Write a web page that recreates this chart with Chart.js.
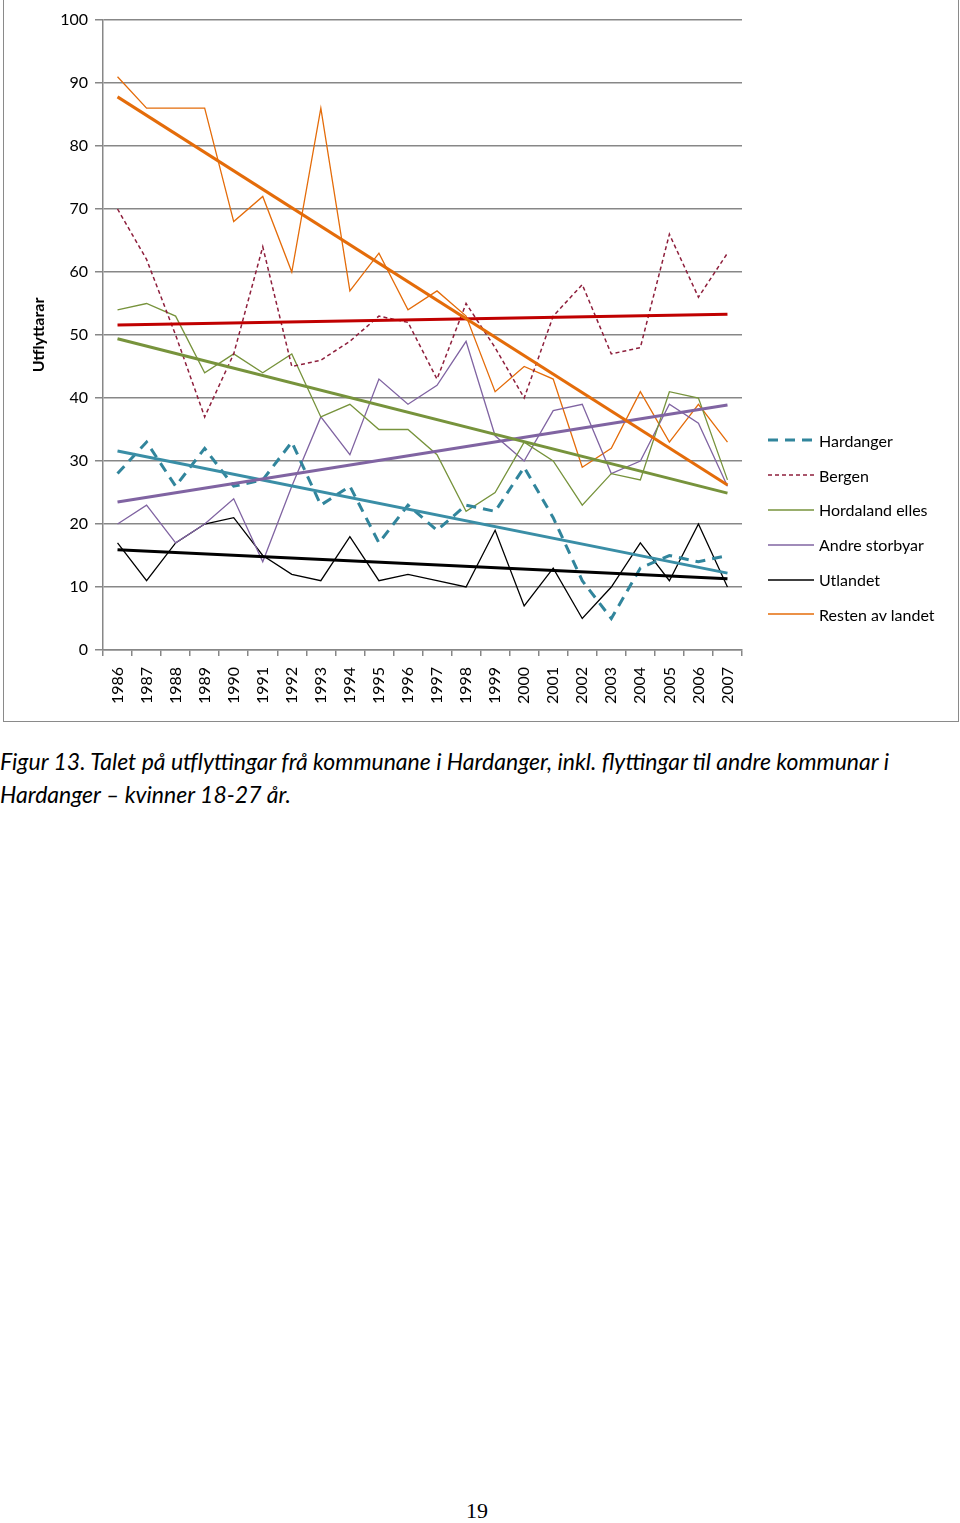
<!DOCTYPE html>
<html>
<head>
<meta charset="utf-8">
<script src="https://cdn.jsdelivr.net/npm/chart.js@4.4.1/dist/chart.umd.min.js"></script>
<style>
  body { margin: 0; background: #fff; width: 960px; height: 1523px; position: relative; font-family: Lato, sans-serif; }
  #frame { position: absolute; left: 3px; top: -1px; width: 954px; height: 721px; border: 1px solid #8a8a8a; }
  #chart { position: absolute; left: 0; top: 0; }
  #legend { position: absolute; left: 768px; top: 423px; font-size: 16px; color: #000; }
  #legend .item { height: 34.8px; display: flex; align-items: center; }
  #legend svg { width: 46px; height: 6px; margin-right: 5px; }
  #caption { position: absolute; left: 0; top: 745px; font-style: italic; font-size: 23px; line-height: 33px; white-space: nowrap; color: #000; }
  #pageno { position: absolute; left: 466px; top: 1498px; font-family: "Liberation Serif", serif; font-size: 22px; }
</style>
</head>
<body>
<div id="frame"></div>
<canvas id="chart" width="960" height="722"></canvas>
<div id="legend"></div>
<div id="caption">Figur 13. Talet på utflyttingar frå kommunane i Hardanger, inkl. flyttingar til andre kommunar i<br>Hardanger – kvinner 18-27 år.</div>
<div id="pageno">19</div>
<script>
// ===== Data =====
var years = ['1986','1987','1988','1989','1990','1991','1992','1993','1994','1995','1996',
             '1997','1998','1999','2000','2001','2002','2003','2004','2005','2006','2007'];

var hardanger      = [28,33,26,32,26,27,33,23,26,17,23,19,23,22,29,21,11,5,13,15,14,15];
var bergen         = [70,62,50,37,47,64,45,46,49,53,52,43,55,48,40,53,58,47,48,66,56,63];
var hordalandElles = [54,55,53,44,47,44,47,37,39,35,35,31,22,25,33,30,23,28,27,41,40,27];
var andreStorbyar  = [20,23,17,20,24,14,26,37,31,43,39,42,49,34,30,38,39,28,30,39,36,26];
var utlandet       = [17,11,17,20,21,15,12,11,18,11,12,11,10,19,7,13,5,10,17,11,20,10];
var restenAvLandet = [91,86,86,86,68,72,60,86,57,63,54,57,53,41,45,43,29,32,41,33,39,33];

// trend lines: value at 1986 and at 2007
var trendHardanger = [31.6, 12.2];
var trendBergen    = [51.6, 53.3];
var trendHordaland = [49.4, 24.9];
var trendAndre     = [23.5, 38.9];
var trendUtlandet  = [15.9, 11.3];
var trendResten    = [87.8, 26.2];

var yTicks = [0,10,20,30,40,50,60,70,80,90,100];

// ===== Styles =====
var grey = '#878787';
var FONT = 'Lato';

var series = [
  { label: 'Hardanger',        data: hardanger,      color: '#31859c', width: 3,   dash: [10, 7] },
  { label: 'Bergen',           data: bergen,         color: '#8e1f3c', width: 1.5, dash: [4, 3] },
  { label: 'Hordaland elles',  data: hordalandElles, color: '#77933c', width: 1.3, dash: [] },
  { label: 'Andre storbyar',   data: andreStorbyar,  color: '#8064a2', width: 1.3, dash: [] },
  { label: 'Utlandet',         data: utlandet,       color: '#000000', width: 1.3, dash: [] },
  { label: 'Resten av landet', data: restenAvLandet, color: '#e46c0a', width: 1.3, dash: [] }
];

var trends = [
  { vals: trendResten,    color: '#e46c0a' },
  { vals: trendBergen,    color: '#c00000' },
  { vals: trendHordaland, color: '#77933c' },
  { vals: trendAndre,     color: '#8064a2' },
  { vals: trendHardanger, color: '#3a8ea6' },
  { vals: trendUtlandet,  color: '#000000' }
];

function endpoints(vals) {
  var arr = years.map(function() { return null; });
  arr[0] = vals[0];
  arr[years.length - 1] = vals[1];
  return arr;
}

var datasets = [];
trends.forEach(function(t) {
  datasets.push({ data: endpoints(t.vals), borderColor: t.color, borderWidth: 3, spanGaps: true, pointRadius: 0, fill: false });
});
series.forEach(function(s) {
  datasets.push({ label: s.label, data: s.data, borderColor: s.color, borderWidth: s.width, borderDash: s.dash, pointRadius: 0, fill: false });
});

new Chart(document.getElementById('chart').getContext('2d'), {
  type: 'line',
  data: { labels: years, datasets: datasets },
  options: {
    responsive: false, animation: false, devicePixelRatio: 1,
    layout: { padding: { left: 29, right: 218, top: 20, bottom: 0 } },
    plugins: { legend: { display: false }, tooltip: { enabled: false } },
    elements: { line: { tension: 0 } },
    scales: {
      x: {
        offset: true,
        grid: { drawOnChartArea: false, color: grey, lineWidth: 1.5, tickLength: 6, offset: true },
        border: { color: grey, width: 1.5 },
        ticks: { minRotation: 90, maxRotation: 90, autoSkip: false, padding: 11, color: '#000', font: { family: FONT, size: 16 } },
        afterFit: function(s) { s.height = 72; }
      },
      y: {
        min: 0, max: 100,
        afterBuildTicks: function(s) { s.ticks = yTicks.map(function(v) { return { value: v }; }); },
        ticks: { padding: 7, color: '#000', font: { family: FONT, size: 16 } },
        grid: { color: grey, lineWidth: 1.5, tickLength: 8 },
        border: { color: grey, width: 1.5 },
        title: { display: true, text: 'Utflyttarar', color: '#000', padding: 0, font: { family: FONT, size: 16, weight: 'bold' } },
        afterFit: function(s) { s.width = 74; }
      }
    }
  }
});

// ===== Legend =====
var legend = document.getElementById('legend');
series.forEach(function(s) {
  var row = document.createElement('div');
  row.className = 'item';
  row.innerHTML =
    '<svg viewBox="0 0 46 6"><line x1="0" y1="3" x2="46" y2="3" stroke="' + s.color + '" stroke-width="' + s.width +
    '" stroke-dasharray="' + (s.dash.length ? s.dash.join(',') : 'none') + '"/></svg>' +
    '<span>' + s.label + '</span>';
  legend.appendChild(row);
});
</script>
</body>
</html>
